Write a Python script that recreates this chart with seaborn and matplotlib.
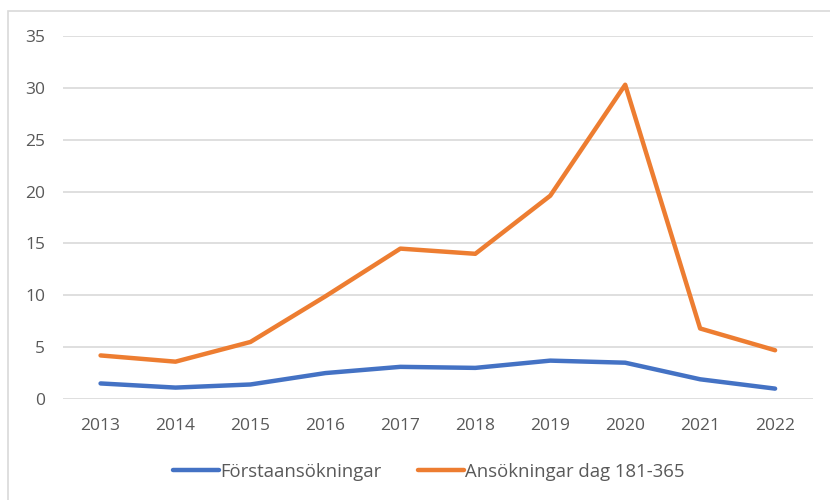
import pandas as pd
import seaborn as sns
import matplotlib.pyplot as plt
from matplotlib.patches import Rectangle

years = ['2013', '2014', '2015', '2016', '2017', '2018', '2019', '2020', '2021', '2022']
forsta = [1.5, 1.1, 1.4, 2.5, 3.1, 3.0, 3.7, 3.5, 1.9, 1.0]
dag181 = [4.2, 3.6, 5.5, 9.9, 14.5, 14.0, 19.6, 30.3, 6.8, 4.7]
series_names = ['Förstaansökningar', 'Ansökningar dag 181-365']
colors = ['#4472C4', '#ED7D31']

df = pd.DataFrame({
    'year': years * 2,
    'value': forsta + dag181,
    'serie': [series_names[0]] * len(years) + [series_names[1]] * len(years),
})

sns.set_style('white')
plt.rcParams['font.family'] = ['Open Sans', 'DejaVu Sans']

fig = plt.figure(figsize=(8.3, 5), dpi=100)
ax = fig.add_axes([0.076, 0.202, 0.903, 0.726])

# ram runt diagrammet (som i Excel)
fig.patches.append(Rectangle((0.0096, -0.05), 1.1, 1.028, transform=fig.transFigure,
                             fill=False, edgecolor='#D9D9D9', linewidth=1.2))

sns.lineplot(data=df, x='year', y='value', hue='serie', palette=colors,
             linewidth=3.2, sort=False, ax=ax)

ax.set_ylim(0, 35)
ax.set_xlim(-0.5, len(years) - 0.5)
ax.set_yticks(range(0, 36, 5))
ax.yaxis.grid(True, color='#D9D9D9', linewidth=1.2)
ax.set_axisbelow(True)
for s in ax.spines.values():
    s.set_visible(False)
ax.set_xlabel('')
ax.set_ylabel('')
ax.tick_params(axis='both', length=0, labelsize=12.5, colors='#595959')
ax.tick_params(axis='x', pad=14)
ax.tick_params(axis='y', pad=13)

ax.legend(loc='center', bbox_to_anchor=(0.488, -0.20), ncol=2, frameon=False,
          fontsize=13.3, handlelength=2.5, handletextpad=0.05, columnspacing=2.0,
          labelcolor='#595959')

plt.savefig('out.png', dpi=100)
